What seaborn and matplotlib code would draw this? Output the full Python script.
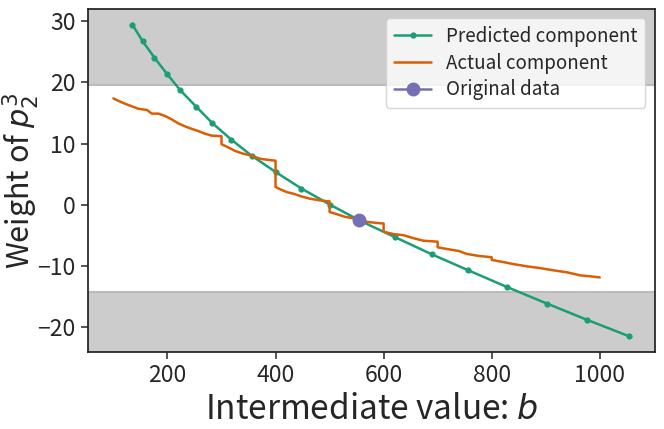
import matplotlib
matplotlib.use("Agg")
import matplotlib.pyplot as plt
import seaborn as sns

# predicted component (green, with markers)
pred_b = [135, 154, 176, 199, 224, 253, 283, 318, 356, 401, 448, 501, 557,
          622, 689, 757, 828, 902, 976, 1054]
pred_w = [29.47, 26.76, 24.05, 21.41, 18.70, 16.06, 13.35, 10.66, 8.0, 5.30,
          2.64, 0.0, -2.65, -5.35, -8.11, -10.75, -13.46, -16.17, -18.82, -21.52]

# actual component (orange); repeated b values are the vertical jumps
act_b = [100, 109, 122, 134, 146, 162, 171, 183, 196, 208, 220, 233, 245, 257,
         270, 282, 300, 300, 313, 325, 338, 356, 372, 385, 400, 400, 409, 421,
         433, 446, 464, 483, 500, 500, 514, 529, 541, 556, 569, 585, 600, 600,
         618, 637, 656, 674, 700, 700, 717, 739, 754, 776, 800, 800, 822, 841,
         866, 890, 915, 940, 964, 983, 1000]
act_w = [17.4, 17.0, 16.5, 16.1, 15.7, 15.5, 14.9, 14.9, 14.5, 13.95, 13.3,
         12.8, 12.4, 12.05, 11.6, 11.3, 11.2, 9.9, 9.35, 8.8, 8.4, 8.0, 7.5,
         7.35, 7.2, 2.9, 2.5, 2.05, 1.8, 1.4, 0.97, 0.7, 0.54, -1.2, -1.57,
         -2.0, -2.16, -2.5, -2.8, -2.97, -3.08, -4.43, -4.8, -5.0, -5.5, -5.9,
         -6.05, -6.97, -7.25, -7.57, -8.06, -8.38, -8.6, -9.03, -9.4, -9.73,
         -10.1, -10.38, -10.75, -11.08, -11.57, -11.73, -11.9]

# original data point
orig_b = [555]
orig_w = [-2.55]

# shaded bands
band_hi = 19.6
band_lo = -14.3

sns.set_style("ticks")
plt.rcParams["font.family"] = ["Noto Sans CJK JP", "DejaVu Sans"]
plt.rcParams["axes.unicode_minus"] = True

colors = sns.color_palette("Dark2", 3)

fig = plt.figure(figsize=(6.64, 4.29), dpi=100)
ax = fig.add_axes([0.132, 0.18, 0.854, 0.799])

sns.lineplot(x=pred_b, y=pred_w, color=colors[0], marker="o", markersize=4.5,
             markeredgewidth=0, linewidth=1.8, label="Predicted component", ax=ax)
sns.lineplot(x=act_b, y=act_w, color=colors[1], linewidth=1.8, sort=False,
             estimator=None, label="Actual component", ax=ax)
sns.lineplot(x=orig_b, y=orig_w, color=colors[2], marker="o", markersize=10,
             markeredgewidth=0, linewidth=1.8, label="Original data", ax=ax)

ylo, yhi = ax.get_ylim()
ax.axhspan(band_hi, yhi, facecolor="#cccccc", edgecolor="#bbbbbb", lw=1.5, zorder=0)
ax.axhspan(ylo, band_lo, facecolor="#cccccc", edgecolor="#bbbbbb", lw=1.5, zorder=0)
ax.set_ylim(ylo, yhi)

for s in ax.spines.values():
    s.set_color("#222222")
    s.set_linewidth(1.25)

ax.set_xticks([200, 400, 600, 800, 1000])
ax.set_yticks([-20, -10, 0, 10, 20, 30])
ax.tick_params(labelsize=16.5, length=5, width=1.1)
ax.set_xlabel("Intermediate value: $b$", fontsize=24)
ax.set_ylabel("Weight of $p_2^3$", fontsize=22)
ax.yaxis.set_label_coords(-0.083, 0.5)

ax.legend(loc="upper right", fontsize=13.5, frameon=True, framealpha=0.8,
          edgecolor="0.8", fancybox=True, labelspacing=0.3)

fig.savefig("out.png", dpi=100)
